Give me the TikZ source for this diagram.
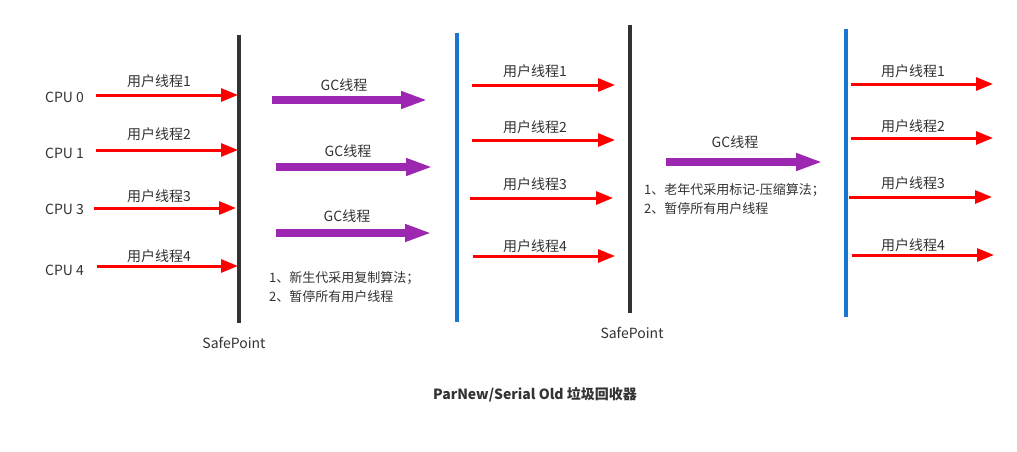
\documentclass[tikz,border=0pt]{standalone}
\usepackage{fontspec}
\setmainfont{Noto Sans CJK SC}
\usetikzlibrary{arrows.meta}
\definecolor{txt}{HTML}{333333}
\definecolor{dark}{HTML}{333333}
\definecolor{blu}{HTML}{1976D2}
\definecolor{pur}{HTML}{9C27B0}
\begin{document}
\begin{tikzpicture}[x=1pt,y=-1pt,
  lbl/.style={inner sep=0pt,text=txt,font=\fontsize{14}{16}\selectfont},
  note/.style={inner sep=0pt,text=txt,font=\fontsize{13}{19}\selectfont,align=left,anchor=west},
  uarrow/.style={draw=red,line width=3pt,-{Triangle[length=17pt,width=13pt]}},
  garrow/.style={draw=pur,line width=8pt,-{Triangle[length=27pt,width=16pt]}},
  darkbar/.style={draw=dark,line width=4pt},
  bluebar/.style={draw=blu,line width=4pt}]
\fill[white] (0,0) rectangle (1017,452);
\useasboundingbox (0,0) rectangle (1017,452);
% bars
\coordinate (b1t) at (239,35); \coordinate (b1b) at (239,323);
\coordinate (b2t) at (457,33); \coordinate (b2b) at (457,322);
\coordinate (b3t) at (630,25); \coordinate (b3b) at (630,313);
\coordinate (b4t) at (846,29); \coordinate (b4b) at (846,317);
\draw[darkbar] (b1t) -- (b1b);
\draw[bluebar] (b2t) -- (b2b);
\draw[darkbar] (b3t) -- (b3b);
\draw[bluebar] (b4t) -- (b4b);
% CPU labels
\node[lbl] (c0) at (64.5,97) {CPU 0};
\node[lbl] (c1) at (64.5,153) {CPU 1};
\node[lbl] (c3) at (64.5,209) {CPU 3};
\node[lbl] (c4) at (64.5,270) {CPU 4};
% section 1
\coordinate (a1s) at (96,95);  \coordinate (a1e) at (238,95);
\coordinate (a2s) at (96,150); \coordinate (a2e) at (238,150);
\coordinate (a3s) at (94,208); \coordinate (a3e) at (236,208);
\coordinate (a4s) at (97,266); \coordinate (a4e) at (238,266);
\draw[uarrow] (a1s) -- (a1e);
\draw[uarrow] (a2s) -- (a2e);
\draw[uarrow] (a3s) -- (a3e);
\draw[uarrow] (a4s) -- (a4e);
\node[lbl] (l11) at (159,81) {用户线程1};
\node[lbl] (l12) at (159,134) {用户线程2};
\node[lbl] (l13) at (159,196) {用户线程3};
\node[lbl] (l14) at (159,256) {用户线程4};
% section 2
\coordinate (g1s) at (272,100); \coordinate (g1e) at (428,100);
\coordinate (g2s) at (276,167); \coordinate (g2e) at (433,167);
\coordinate (g3s) at (276,233); \coordinate (g3e) at (432,233);
\draw[garrow] (g1s) -- (g1e);
\draw[garrow] (g2s) -- (g2e);
\draw[garrow] (g3s) -- (g3e);
\node[lbl] (gl1) at (344,85) {GC线程};
\node[lbl] (gl2) at (348,151) {GC线程};
\node[lbl] (gl3) at (347,216) {GC线程};
\node[note] (n1) at (269,287.5) {1、新生代采用复制算法；\\2、暂停所有用户线程};
\node[lbl] (sp1) at (234,343) {SafePoint};
% section 3
\coordinate (r1s) at (472,85);  \coordinate (r1e) at (615,85);
\coordinate (r2s) at (472,140); \coordinate (r2e) at (615,140);
\coordinate (r3s) at (470,198); \coordinate (r3e) at (613,198);
\coordinate (r4s) at (473,256); \coordinate (r4e) at (615,256);
\draw[uarrow] (r1s) -- (r1e);
\draw[uarrow] (r2s) -- (r2e);
\draw[uarrow] (r3s) -- (r3e);
\draw[uarrow] (r4s) -- (r4e);
\node[lbl] (l31) at (535,71) {用户线程1};
\node[lbl] (l32) at (535,127) {用户线程2};
\node[lbl] (l33) at (535,184) {用户线程3};
\node[lbl] (l34) at (535,246) {用户线程4};
% section 4
\coordinate (g4s) at (666,162); \coordinate (g4e) at (823,162);
\draw[garrow] (g4s) -- (g4e);
\node[lbl] (gl4) at (735,142) {GC线程};
\node[note] (n2) at (644,199.5) {1、老年代采用标记-压缩算法；\\2、暂停所有用户线程};
\node[lbl] (sp2) at (632,333) {SafePoint};
% section 5
\coordinate (s1s) at (851,84);  \coordinate (s1e) at (993,84);
\coordinate (s2s) at (851,138); \coordinate (s2e) at (993,138);
\coordinate (s3s) at (849,197); \coordinate (s3e) at (992,197);
\coordinate (s4s) at (852,255); \coordinate (s4e) at (994,255);
\draw[uarrow] (s1s) -- (s1e);
\draw[uarrow] (s2s) -- (s2e);
\draw[uarrow] (s3s) -- (s3e);
\draw[uarrow] (s4s) -- (s4e);
\node[lbl] (l51) at (913,71) {用户线程1};
\node[lbl] (l52) at (913,126) {用户线程2};
\node[lbl] (l53) at (913,183) {用户线程3};
\node[lbl] (l54) at (913,245) {用户线程4};
% title
\node[lbl,font=\fontsize{14}{16}\selectfont\bfseries] (title) at (535,395) {ParNew/Serial Old 垃圾回收器};
\end{tikzpicture}
\end{document}
